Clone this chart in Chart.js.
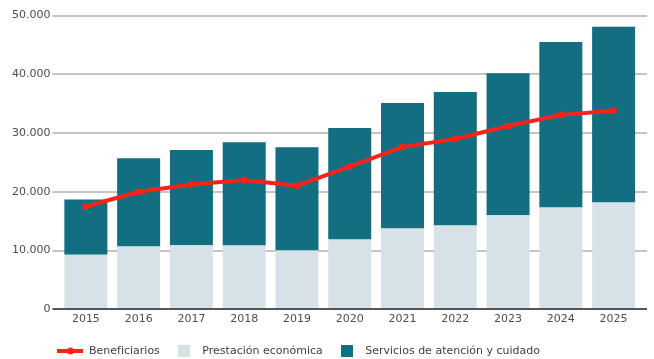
<!DOCTYPE html>
<html lang="es">
<head>
<meta charset="utf-8">
<title>Beneficiarios y prestaciones 2015-2025</title>
<script src="https://cdn.jsdelivr.net/npm/chart.js@4/dist/chart.umd.min.js"></script>
<style>
  html, body { margin: 0; padding: 0; background: #fff; }
  #wrap { width: 654px; height: 359px; }
</style>
</head>
<body>
<div id="wrap"><canvas id="grafico"></canvas></div>
<script>
// Datos
const anios = ['2015', '2016', '2017', '2018', '2019', '2020', '2021', '2022', '2023', '2024', '2025'];
const prestacionEconomica = [9300, 10700, 10900, 10850, 10000, 11900, 13750, 14250, 16000, 17350, 18200];
const serviciosAtencion = [9400, 15000, 16200, 17600, 17600, 18950, 21350, 22750, 24200, 28150, 29900];
const beneficiarios = [17500, 20000, 21250, 22000, 21050, 24300, 27650, 29000, 31200, 33100, 33800];
const ticksY = [0, 10000, 20000, 30000, 40000, 50000];

const ROJO = '#f7231a';
const GRIS = '#d7e2e7';
const AZUL = '#136e82';

// formato con punto de miles
function miles(v) {
  return String(v).replace(/\B(?=(\d{3})+(?!\d))/g, '.');
}

// iconos de la leyenda
function iconoLinea(color) {
  const c = document.createElement('canvas');
  c.width = 26; c.height = 10;
  const g = c.getContext('2d');
  g.strokeStyle = color; g.lineWidth = 4;
  g.beginPath(); g.moveTo(0, 5); g.lineTo(26, 5); g.stroke();
  g.fillStyle = color;
  g.beginPath(); g.arc(13, 5, 3.5, 0, Math.PI * 2); g.fill();
  return c;
}
function iconoCuadro(color) {
  const c = document.createElement('canvas');
  c.width = 12; c.height = 12;
  const g = c.getContext('2d');
  g.fillStyle = color; g.fillRect(0, 0, 12, 12);
  return c;
}
const iconos = [iconoLinea(ROJO), iconoCuadro(GRIS), iconoCuadro(AZUL)];

// líneas horizontales que sobresalen un poco del área
const rejilla = {
  id: 'rejilla',
  beforeDatasetsDraw(chart) {
    const { ctx, chartArea, scales } = chart;
    ctx.save();
    ctx.lineWidth = 2;
    ctx.strokeStyle = '#c4c4c4';
    ticksY.forEach(v => {
      if (v === 0) return;
      const y = Math.round(scales.y.getPixelForValue(v));
      ctx.beginPath();
      ctx.moveTo(chartArea.left - 7, y);
      ctx.lineTo(chartArea.right + 7, y);
      ctx.stroke();
    });
    ctx.restore();
  },
  afterDatasetsDraw(chart) {
    const { ctx, chartArea, scales } = chart;
    const y = Math.round(scales.y.getPixelForValue(0));
    ctx.save();
    ctx.lineWidth = 2;
    ctx.strokeStyle = '#555';
    ctx.beginPath();
    ctx.moveTo(chartArea.left - 7, y);
    ctx.lineTo(chartArea.right + 7, y);
    ctx.stroke();
    ctx.restore();
  },
  afterLayout(chart) {
    // colocar la leyenda bajo el eje
    const lg = chart.legend;
    const pad = lg.options.labels.padding;
    lg.left = chart.chartArea.left - 2 - pad;
    lg.top = 351 - pad - 5.5;
  }
};

Chart.defaults.font.family = '"DejaVu Sans", Verdana, sans-serif';
Chart.defaults.font.size = 11;
Chart.defaults.color = '#4d4d4d';

new Chart(document.getElementById('grafico'), {
  type: 'bar',
  data: {
    labels: anios,
    datasets: [
      {
        type: 'line',
        label: 'Beneficiarios',
        data: beneficiarios,
        borderColor: ROJO,
        backgroundColor: ROJO,
        borderWidth: 4,
        pointRadius: 3.5,
        pointBorderWidth: 0,
        pointBackgroundColor: ROJO,
        tension: 0,
        order: 0
      },
      {
        label: 'Prestación económica',
        data: prestacionEconomica,
        backgroundColor: GRIS,
        stack: 'total',
        order: 1
      },
      {
        label: 'Servicios de atención y cuidado',
        data: serviciosAtencion,
        backgroundColor: AZUL,
        stack: 'total',
        order: 1
      }
    ]
  },
  options: {
    responsive: true,
    maintainAspectRatio: false,
    animation: false,
    layout: { padding: { left: 3, right: 14, top: 15, bottom: -1.5 } },
    datasets: {
      bar: { categoryPercentage: 1, barPercentage: 0.815 }
    },
    scales: {
      x: {
        stacked: true,
        grid: { display: false, drawTicks: false },
        border: { display: false },
        ticks: { padding: 3 }
      },
      y: {
        stacked: true,
        min: 0,
        max: 50000,
        grid: { display: false, drawTicks: false },
        border: { display: false },
        ticks: {
          stepSize: 10000,
          padding: 9,
          callback: v => miles(v)
        }
      }
    },
    plugins: {
      legend: {
        position: 'bottom',
        align: 'start',
        labels: {
          usePointStyle: true,
          pointStyleWidth: 26,
          padding: 11,
          color: '#3f3f3f',
          generateLabels(chart) {
            const items = Chart.defaults.plugins.legend.labels.generateLabels(chart);
            items.forEach((it, i) => { it.pointStyle = iconos[i]; });
            return items;
          }
        }
      },
      tooltip: { enabled: false }
    }
  },
  plugins: [rejilla]
});
</script>
</body>
</html>
